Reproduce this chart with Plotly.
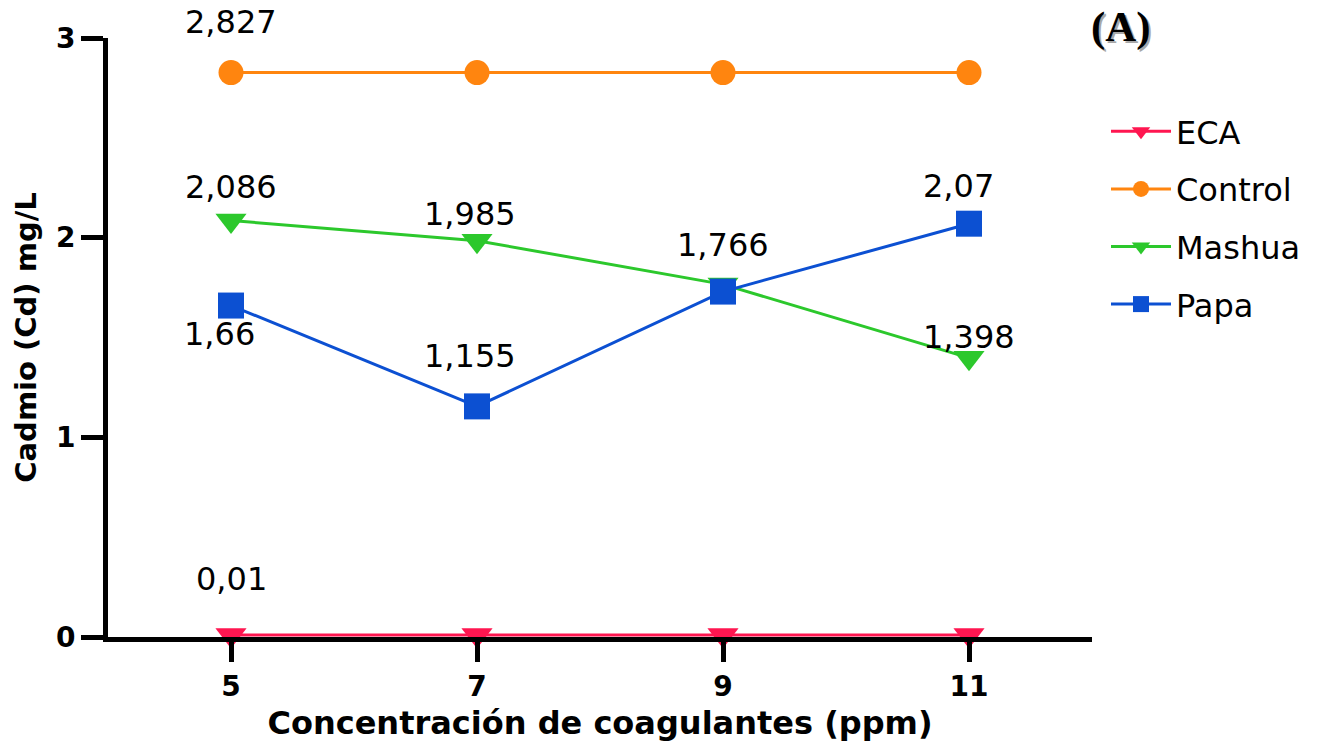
import plotly.graph_objects as go

# Concentración de coagulantes (ppm)
concentracion = [5, 7, 9, 11]

# Cadmio (Cd) mg/L por tratamiento
eca = [0.01, 0.01, 0.01, 0.01]
control = [2.827, 2.827, 2.827, 2.827]
mashua = [2.086, 1.985, 1.766, 1.398]
papa = [1.66, 1.155, 1.73, 2.07]

series = [
    ("ECA", eca, "#FF1650", "triangle-down", 27),
    ("Control", control, "#FF850F", "circle", 25),
    ("Mashua", mashua, "#2CC82C", "triangle-down", 27),
    ("Papa", papa, "#0C50D2", "square", 26),
]

# Etiquetas de valor: (serie, índice del punto, desplazamiento vertical en px)
etiquetas = [
    ("Control", 0, 51),
    ("ECA", 0, 56),
    ("Mashua", 0, 34),
    ("Mashua", 1, 27),
    ("Mashua", 2, 39),
    ("Mashua", 3, 21),
    ("Papa", 0, -28),
    ("Papa", 1, 50),
    ("Papa", 3, 38),
]
etiqueta_dx = {("Mashua", 1): -7, ("Papa", 0): -12, ("Papa", 1): -7, ("Papa", 3): -11}

FONT = "DejaVu Sans, Verdana, sans-serif"
SERIF = "Liberation Serif, Times New Roman, serif"

W, H = 1340, 751
ML, MR, MT, MB = 108, 248, 38, 114
PW, PH = W - ML - MR, H - MT - MB

fig = go.Figure()
valores = {}
for nombre, ys, color, simbolo, tam in series:
    valores[nombre] = ys
    fig.add_trace(go.Scatter(
        x=concentracion, y=ys, name=nombre, legendgroup=nombre,
        mode="lines+markers",
        line=dict(color=color, width=3),
        marker=dict(symbol=simbolo, size=tam, color=color),
        cliponaxis=False,
    ))


def fmt(v):
    return ("%g" % v).replace(".", ",")


for nombre, i, dy in etiquetas:
    v = valores[nombre][i]
    fig.add_annotation(
        x=concentracion[i], y=v, xref="x", yref="y", text=fmt(v),
        showarrow=False, yshift=dy, xshift=etiqueta_dx.get((nombre, i), 0),
        font=dict(family=FONT, size=32, color="#000000"),
    )

# Panel label "(A)" with a soft grey shadow behind it
lab_x = (1121 - ML) / PW
lab_y = 1 + (MT - 27) / PH
for color, dx, dy in [("#a8a8a8", 2, -2), ("#000000", 0, 0)]:
    fig.add_annotation(
        x=lab_x, y=lab_y, xref="paper", yref="paper", xanchor="center", yanchor="middle",
        text="<b>(A)</b>", showarrow=False, xshift=dx, yshift=dy,
        font=dict(family=SERIF, size=43, color=color),
    )

fig.update_layout(
    width=W, height=H,
    margin=dict(l=ML, r=MR, t=MT, b=MB),
    paper_bgcolor="white", plot_bgcolor="white",
    font=dict(family=FONT, color="black"),
    showlegend=True,
    legend=dict(
        x=(1106 - ML) / PW, xanchor="left", y=1 - (104 - MT) / PH, yanchor="top",
        font=dict(family=FONT, size=32, color="black"),
        tracegroupgap=13, itemwidth=60,
        bgcolor="rgba(0,0,0,0)",
    ),
    xaxis=dict(
        range=[4, 12], tickvals=concentracion, ticktext=[str(c) for c in concentracion],
        showgrid=False, zeroline=False, showline=True, linecolor="black", linewidth=5,
        ticks="outside", ticklen=20, tickwidth=5, tickcolor="black",
        tickfont=dict(family=FONT, size=28, color="black", weight="bold"),
        title=dict(text="<b>Concentración de coagulantes (ppm)</b>",
                   font=dict(family=FONT, size=32, color="black"), standoff=12),
    ),
    yaxis=dict(
        range=[0, 3], tickvals=[0, 1, 2, 3],
        showgrid=False, zeroline=False, showline=True, linecolor="black", linewidth=5,
        ticks="outside", ticklen=22, tickwidth=5, tickcolor="black",
        tickfont=dict(family=FONT, size=28, color="black", weight="bold"),
        title=dict(text="<b>Cadmio (Cd) mg/L</b>",
                   font=dict(family=FONT, size=29, color="black"), standoff=12),
    ),
)

fig.write_html("out.html")
